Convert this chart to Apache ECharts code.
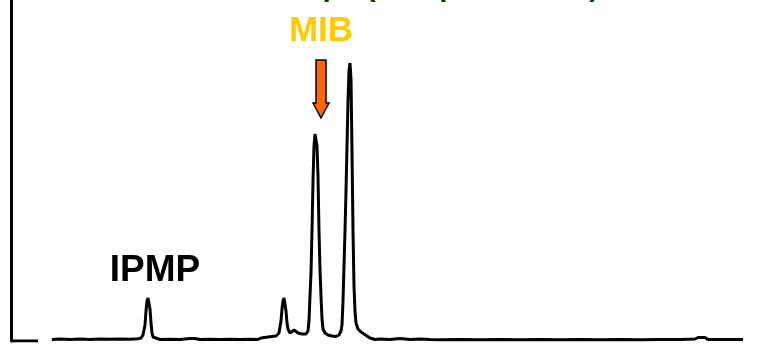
<!DOCTYPE html>
<html><head><meta charset="utf-8">
<script src="https://cdn.jsdelivr.net/npm/echarts@6/dist/echarts.min.js"></script>
<style>html,body{margin:0;padding:0;background:#fff}#c{width:772px;height:344px}</style>
</head><body><div id="c"></div>
<script>
// Retention time (arbitrary units) and detector signal
const timeVals = [0,27,null,41,49,59,69,79,89,99,109,119,127,130,132,134,135,136,137,138,139,140,141,142,144,149,159,169,179,184,189,199,209,219,229,239,247,250,252,257,261,265,268,270,271,272,273,274,275,276,277,279,281,283,285,287,289,291,293,295,297,298,299,300,301,302,303,304,305,306,307,308,309,310,311,312,314,317,321,325,328,330,331,332,333,334,335,336,337,338,339,340,341,342,343,344,345,347,350,353,356,359,364,369,379,389,399,409,419,429,449,469,489,509,529,549,569,589,609,629,649,669,684,687,694,697,709,732];
const signalVals = [0,0,null,1.5,2,1.5,2,1.5,2,1.8,2,1.8,2.2,3,6,16,30,40,43,41,32,18,8,4,2,1.5,1.8,1.5,2.5,2.5,1.5,1.8,1.5,1.8,1.5,1.8,1.5,3,4.5,4,4.5,5,8,20,32,40,43,41,30,18,12,8,9,11,9,8,10,7,6,7,10,20,45,68,110,160,195,207,206,195,165,110,72,45,22,12,8,6,5,4.5,6,10,16,40,75,110,150,195,240,270,278,262,190,110,55,30,18,12,9,7,5,3,1.5,2,1.5,2.5,1.5,2,1.5,1.2,1.5,1.2,1.5,1.2,1.5,1.2,1.5,1.2,1.5,1.2,1.5,1.5,2,3.5,3.5,1.5,1.5,1.5];
const peakLabels = ["IPMP", "MIB"];
const peakTimes = [137, 304];      // IPMP peak, MIB peak
const peakSignals = [43, 207];
const titleText = "Treated tap   (Sample extract)";

const data = timeVals.map((t, i) => t === null ? [null, null] : [t, signalVals[i]]);
const chart = echarts.init(document.getElementById('c'));
chart.setOption({
  animation: false,
  grid: {left: 11, right: 29, top: 0, bottom: 3},
  xAxis: {type: 'value', min: 0, max: 732, show: false},
  yAxis: {type: 'value', min: 0, max: 341,
    axisLine: {show: true, lineStyle: {color: '#000', width: 3}},
    axisTick: {show: false}, axisLabel: {show: false}, splitLine: {show: false}},
  series: [{type: 'line', data: data, showSymbol: false, connectNulls: false,
    lineStyle: {color: '#000', width: 3}}]
});
const ipmp = chart.convertToPixel({gridIndex: 0}, [peakTimes[0], peakSignals[0]]);
const mib = chart.convertToPixel({gridIndex: 0}, [peakTimes[1], peakSignals[1]]);
const tipX = mib[0] + 6, tipY = mib[1] - 16;
chart.setOption({
  graphic: [
    {type: 'text', style: {text: titleText, x: 390, y: 2.5, align: 'center', verticalAlign: 'bottom', fill: '#0b3d0b', font: 'bold 30px "Liberation Sans", Arial, sans-serif'}},
    {type: 'text', style: {text: peakLabels[1], x: mib[0] + 6, y: 31, align: 'center', verticalAlign: 'middle', fill: '#ffcc00', font: 'bold 35px "Liberation Sans", Arial, sans-serif'}},
    {type: 'text', style: {text: peakLabels[0], x: ipmp[0] + 7, y: 271, align: 'center', verticalAlign: 'middle', fill: '#000', font: 'bold 37px "Liberation Sans", Arial, sans-serif'}},
    {type: 'polygon', shape: {points: [
        [tipX - 5, tipY - 58], [tipX + 5, tipY - 58], [tipX + 5, tipY - 15], [tipX + 8, tipY - 15],
        [tipX, tipY], [tipX - 8, tipY - 15], [tipX - 5, tipY - 15]]},
      style: {fill: '#ff6600', stroke: '#000', lineWidth: 1.5}}
  ]
});
</script></body></html>
